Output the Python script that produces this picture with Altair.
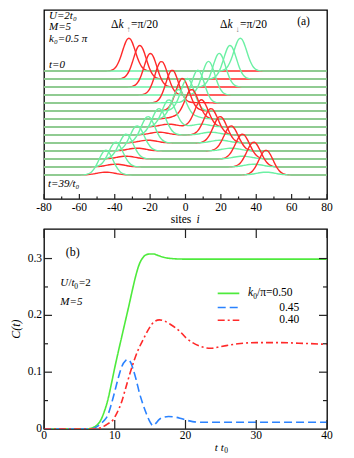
import altair as alt
import pandas as pd
import numpy as np

FONT = "Liberation Serif"
RED = "#ff2a2a"
AQUA = "#6cf0a4"
GREEN = "#4eea3c"
BLUE = "#2a82ff"
INK = "#222222"

# ---------------- panel (a): wave packets, one row every 3 time units ----------------
rows_t = [0, 3, 6, 9, 12, 15, 18, 21, 24, 27, 30, 33, 36, 39]
up_center = [-32.0, -25.8, -19.8, -13.6, -7.5, -1.8, 3.6, 9.0, 14.4, 19.6, 25.8, 32.2, 38.6, 45.5]
down_center = [31.0, 25.2, 19.1, 13.0, 7.0, 1.2, -4.0, -9.4, -15.0, -21.2, -27.4, -33.6, -39.4, -45.0]
peak_height = [4.1, 4.2, 4.2, 4.2, 4.1, 3.9, 3.6, 3.4, 3.3, 3.3, 3.15, 3.1, 3.1, 3.1]
refl_height = [0, 0, 0, 0, 0.05, 0.2, 0.3, 0.35, 0.35, 0.35, 0.35, 0.35, 0.35, 0.35]
packet_width = [3.6, 3.6, 3.6, 3.6, 3.6, 3.7, 3.8, 3.8, 3.9, 3.9, 4.0, 4.0, 4.0, 4.0]
sites = list(range(-80, 81))
site_ticks_major = [-80, -60, -40, -20, 0, 20, 40, 60, 80]
site_ticks_minor = [-70, -50, -30, -10, 10, 30, 50, 70]

# ---------------- panel (b): C(t) ----------------
t_050 = [0, 6, 7, 7.5, 8, 8.5, 9, 9.5, 10, 10.5, 11, 11.5, 12, 12.5, 13, 13.5, 14, 14.5, 15, 15.5, 16, 17, 18, 20, 25, 30, 35, 40]
c_050 = [0, 0, 0.003, 0.007, 0.015, 0.03, 0.05, 0.078, 0.108, 0.136, 0.163, 0.19, 0.217, 0.245, 0.271, 0.291, 0.302, 0.307, 0.308, 0.308, 0.306, 0.302, 0.3, 0.299, 0.299, 0.299, 0.299, 0.299]
t_045 = [0, 6.5, 7.2, 7.6, 8, 8.5, 9, 9.5, 10, 10.5, 11, 11.5, 11.9, 12.3, 12.6, 13, 13.5, 14, 14.5, 15, 15.4, 15.8, 16.3, 17, 17.6, 18.5, 19.2, 20, 21, 22, 25, 30, 35, 40]
c_045 = [0, 0, 0.002, 0.005, 0.009, 0.015, 0.024, 0.043, 0.066, 0.09, 0.11, 0.12, 0.122, 0.116, 0.105, 0.088, 0.063, 0.043, 0.026, 0.012, 0.006, 0.01, 0.017, 0.021, 0.022, 0.021, 0.019, 0.016, 0.013, 0.012, 0.012, 0.012, 0.012, 0.012]
t_040 = [0, 7, 8, 8.5, 9, 9.75, 10.3, 10.9, 11.5, 12.3, 13.3, 14, 14.9, 15.5, 16.3, 17, 18, 19.2, 20.1, 21, 22.2, 23.6, 25, 27.4, 30, 33.5, 36, 40]
c_040 = [0, 0, 0.002, 0.005, 0.009, 0.016, 0.028, 0.045, 0.07, 0.104, 0.139, 0.157, 0.178, 0.188, 0.192, 0.19, 0.183, 0.172, 0.16, 0.152, 0.145, 0.142, 0.145, 0.15, 0.152, 0.152, 0.151, 0.149]
series_names = ["k0.50", "k0.45", "k0.40"]
series_labels = ["/π=0.50", "0.45", "0.40"]
time_ticks = [0, 10, 20, 30, 40]
c_ticks_major = [0.1, 0.2, 0.3]
c_ticks_minor = [0.05, 0.15, 0.25]
c_tick_labels = ["0", "0.1", "0.2", "0.3"]

# ---------------- geometry / style ----------------
W = 283
HA = 189
HB = 200
ROW_STEP = 1.0
FS = 11.5

DUMMY = pd.DataFrame({"d": [0]})


def label(text, x, y, size=FS, align="left", style="normal", angle=0, color="black"):
    kw = dict(text=text, font=FONT, fontSize=size, align=align, baseline="middle",
              fontStyle=style, color=color)
    if angle:
        kw["angle"] = angle
    return alt.Chart(DUMMY).mark_text(**kw).encode(x=alt.value(x), y=alt.value(y))


# ---- build panel (a) table ----
recs = []
n = len(rows_t)
for i in range(n):
    base = (n - 1 - i) * ROW_STEP
    w = packet_width[i]
    for spin, cm, cr in (("up", up_center[i], down_center[i]), ("down", down_center[i], up_center[i])):
        key = f"{i:02d}{'a' if spin == 'up' else 'b'}"
        for s in sites:
            dens = peak_height[i] * np.exp(-(s - cm) ** 2 / (2 * w * w)) \
                + refl_height[i] * np.exp(-(s - cr) ** 2 / (2 * (1.3 * w) ** 2))
            recs.append({"site": s, "y": base + dens, "spin": spin, "key": key})
df_a = pd.DataFrame(recs)

xa = alt.Scale(domain=[-80, 80], nice=False, zero=False)
ya = alt.Scale(domain=[-3, 20.625], nice=False, zero=False)

lines_a = alt.Chart(df_a).mark_line(strokeWidth=1.4, interpolate="monotone", clip=True).encode(
    x=alt.X("site:Q", scale=xa, axis=None),
    y=alt.Y("y:Q", scale=ya, axis=None),
    color=alt.Color("spin:N", scale=alt.Scale(domain=["up", "down"], range=[RED, AQUA]), legend=None),
    detail="key:N",
)

tick_major_a = alt.Chart(pd.DataFrame({"pos": site_ticks_major})).mark_rule(color=INK, strokeWidth=1.2).encode(
    x=alt.X("pos:Q", scale=xa, axis=None), y=alt.value(HA), y2=alt.value(HA - 5))
tick_minor_a = alt.Chart(pd.DataFrame({"pos": site_ticks_minor})).mark_rule(color=INK, strokeWidth=1.2).encode(
    x=alt.X("pos:Q", scale=xa, axis=None), y=alt.value(HA), y2=alt.value(HA - 2.5))
tick_lab_a = alt.Chart(pd.DataFrame({"pos": site_ticks_major, "lab": [str(v) for v in site_ticks_major]})).mark_text(
    font=FONT, fontSize=FS, baseline="top", align="center", color="black").encode(
    x=alt.X("pos:Q", scale=xa, axis=None), y=alt.value(HA + 3), text="lab:N")

texts_a = [
    label("U=2t₀", 5, 5.5, style="italic", size=11),
    label("M=5", 5, 16.5, style="italic", size=11),
    label("k₀=0.5 π", 5, 28.5, style="italic", size=11),
    label("t=0", 5, 54.5, style="italic", size=11),
    label("t=39/t₀", 4, 173.5, style="italic", size=11),
    label("Δ", 67, 15.3),
    label("k", 74.5, 15.3, style="italic"),
    label("↑", 82.5, 20, size=8, color="#777777"),
    label("=π/20", 87, 15.3),
    label("Δ", 176, 15.3),
    label("k", 183.5, 15.3, style="italic"),
    label("↓", 191.5, 20, size=8, color="#777777"),
    label("=π/20", 196, 15.3),
    label("(a)", 259.5, 12, align="center"),
    label("sites", 137, 209.5, align="center"),
    label("i", 154, 209.5, style="italic", align="center"),
]

panel_a = alt.layer(lines_a, tick_major_a, tick_minor_a, tick_lab_a, *texts_a).properties(width=W, height=HA)

# ---- panel (b) ----
df_b = pd.concat([
    pd.DataFrame({"t": t_050, "C": c_050, "k": series_names[0]}),
    pd.DataFrame({"t": t_045, "C": c_045, "k": series_names[1]}),
    pd.DataFrame({"t": t_040, "C": c_040, "k": series_names[2]}),
])
xb = alt.Scale(domain=[0, 40], nice=False, zero=False)
yb = alt.Scale(domain=[0, 0.352], nice=False, zero=False)
colors_b = [GREEN, BLUE, RED]
dashes_b = [[1, 0], [8, 4], [7, 3, 2, 3]]

lines_b = alt.Chart(df_b).mark_line(strokeWidth=1.6, interpolate="monotone", clip=True).encode(
    x=alt.X("t:Q", scale=xb, axis=None),
    y=alt.Y("C:Q", scale=yb, axis=None),
    color=alt.Color("k:N", scale=alt.Scale(domain=series_names, range=colors_b), legend=None),
    strokeDash=alt.StrokeDash("k:N", scale=alt.Scale(domain=series_names, range=dashes_b), legend=None),
)

tdf = pd.DataFrame({"pos": time_ticks, "lab": [str(v) for v in time_ticks]})
tk_b = [
    alt.Chart(tdf).mark_rule(color=INK, strokeWidth=1.2).encode(
        x=alt.X("pos:Q", scale=xb, axis=None), y=alt.value(HB), y2=alt.value(HB - 9)),
    alt.Chart(tdf).mark_rule(color=INK, strokeWidth=1.2).encode(
        x=alt.X("pos:Q", scale=xb, axis=None), y=alt.value(0), y2=alt.value(9)),
    alt.Chart(tdf).mark_text(font=FONT, fontSize=FS, baseline="top", align="center", color="black").encode(
        x=alt.X("pos:Q", scale=xb, axis=None), y=alt.value(HB + 0.5), text="lab:N"),
    alt.Chart(pd.DataFrame({"pos": [0] + c_ticks_major, "lab": c_tick_labels})).mark_text(
        font=FONT, fontSize=FS, baseline="middle", align="right", color="black").encode(
        y=alt.Y("pos:Q", scale=yb, axis=None), x=alt.value(-2), text="lab:N"),
]
for vals, ln in ((c_ticks_major, 8), (c_ticks_minor, 4)):
    cdf = pd.DataFrame({"pos": vals})
    tk_b.append(alt.Chart(cdf).mark_rule(color=INK, strokeWidth=1.2).encode(
        y=alt.Y("pos:Q", scale=yb, axis=None), x=alt.value(0), x2=alt.value(ln)))
    tk_b.append(alt.Chart(cdf).mark_rule(color=INK, strokeWidth=1.2).encode(
        y=alt.Y("pos:Q", scale=yb, axis=None), x=alt.value(W), x2=alt.value(W - ln)))

legend_y = [64.4, 78.5, 91.2]
legend_b = []
for name, col, dash, ly, lab in zip(series_names, colors_b, dashes_b, legend_y, series_labels):
    legend_b.append(alt.Chart(DUMMY).mark_rule(color=col, strokeWidth=1.6, strokeDash=dash).encode(
        x=alt.value(173.7), x2=alt.value(195.3), y=alt.value(ly)))
    if lab.startswith("/"):
        legend_b.append(label(lab, 213, ly, align="left", size=11.5))
    else:
        legend_b.append(label(lab, 255.3, ly, align="right", size=11.5))
legend_b.append(label("k", 204, legend_y[0], style="italic", size=11.5))
legend_b.append(label("0", 211, legend_y[0] + 4, size=7.5, align="center"))

texts_b = [
    label("(b)", 28.7, 22.7, align="center", size=12),
    label("U", 16.3, 54.4, style="italic", size=11),
    label("/", 24.5, 54.4, size=11),
    label("t", 27.5, 54.4, style="italic", size=11),
    label("0", 32, 58, size=7.5, align="center"),
    label("=2", 35, 54.4, size=11),
    label("M=5", 16.3, 72.7, style="italic", size=11),
    label("C(t)", -27.7, 100.2, style="italic", align="center", angle=270, size=12),
    label("t t", 175.3, 218.7, style="italic", align="center", size=11),
    label("0", 182, 222, size=7.5, align="center"),
]

panel_b = alt.layer(lines_b, *tk_b, *legend_b, *texts_b).properties(width=W, height=HB)

chart = alt.vconcat(panel_a, panel_b, spacing=30, bounds="flush").resolve_scale(
    color="independent", strokeDash="independent"
).properties(
    padding={"left": 1, "top": 0, "right": 0, "bottom": 0}
).configure_view(stroke="black", strokeWidth=1.3)

chart.save("out.html", embed_options={"renderer": "svg", "actions": False})
